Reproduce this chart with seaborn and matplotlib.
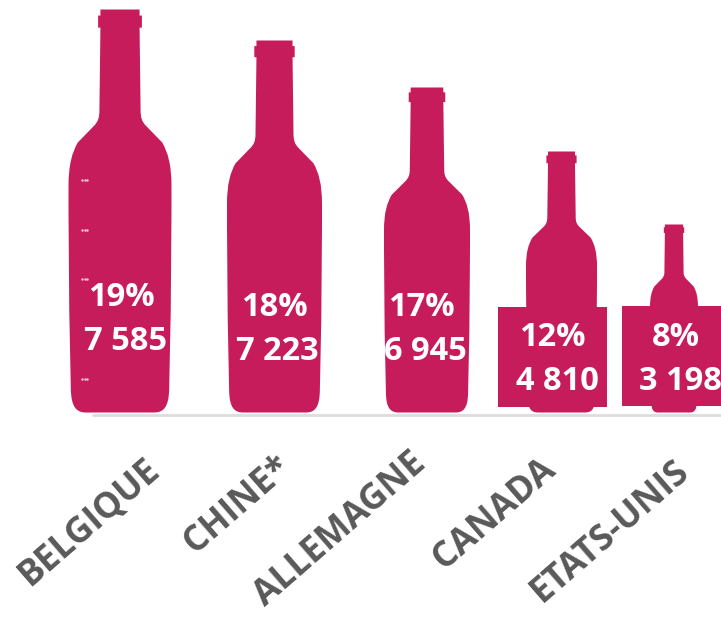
import pandas as pd
import matplotlib
matplotlib.use('Agg')
import matplotlib.pyplot as plt
import seaborn as sns
from matplotlib.path import Path
from matplotlib.patches import PathPatch, Rectangle

# =============================================================================
# Data
# =============================================================================

pays = ['BELGIQUE', 'CHINE*', 'ALLEMAGNE', 'CANADA', 'ETATS-UNIS']
parts = ['19%', '18%', '17%', '12%', '8%']
volumes = ['7 585', '7 223', '6 945', '4 810', '3 198']
# height of each bottle as drawn in the picture
hauteurs = [403, 372, 325, 261, 188]
largeurs = [103, 95, 86, 71, 48]
centres = [120, 274.5, 427, 561.5, 674]

ROSE = '#C71C5B'
GRIS = '#595959'
BASE = 412.5  # picture row of the bottom of the bottles

# =============================================================================
# Bottle shape (right half, unit width/height)
# =============================================================================

c4 = Path.CURVE4
moitie = [
    ((0.0, 0.0), Path.MOVETO),
    ((0.66, 0.0), Path.LINETO),
    ((0.84, 0.0), c4), ((0.95, 0.012), c4), ((0.955, 0.06), c4),
    ((0.985, 0.25), Path.LINETO),
    ((1.0, 0.50), Path.LINETO),
    ((1.0, 0.56), Path.LINETO),
    ((1.0, 0.615), c4), ((0.93, 0.645), c4), ((0.82, 0.67), c4),
    ((0.50, 0.712), Path.LINETO),
    ((0.43, 0.722), c4), ((0.40, 0.73), c4), ((0.40, 0.75), c4),
    ((0.38, 0.955), Path.LINETO),
    ((0.425, 0.955), Path.LINETO),
    ((0.425, 0.985), Path.LINETO),
    ((0.38, 0.985), Path.LINETO),
    ((0.38, 1.0), Path.LINETO),
]


def bouteille(cx, w, h):
    # mirror the right half to close the outline
    pts = [p for p, c in moitie]
    codes = [c for p, c in moitie]
    droite = [(cx + u * w / 2, v * h) for u, v in pts]
    gauche = [(cx - u * w / 2, v * h) for u, v in pts[::-1]]
    return Path(droite + gauche, codes + [Path.LINETO] + codes[:0:-1])


# =============================================================================
# Figure
# =============================================================================

sns.set_theme(style='white')
plt.rcParams['font.family'] = ['Open Sans', 'DejaVu Sans']

df = pd.DataFrame({'pays': pays, 'centre': centres, 'hauteur': hauteurs})

fig = plt.figure(figsize=(7.21, 6.17), dpi=100)
ax = fig.add_axes([0, 0, 1, 1])
sns.barplot(data=df, x='centre', y='hauteur', native_scale=True, color=ROSE,
            saturation=1, ax=ax)

# baseline under the bottles
ax.plot([93, 721], [-2.5, -2.5], color='#DDDDDD', lw=2.0, zorder=1)

# every bar becomes a bottle of the same height
for bar, w in zip(list(ax.patches), largeurs):
    cx = bar.get_x() + bar.get_width() / 2
    ax.add_patch(PathPatch(bouteille(cx, w, bar.get_height()), fc=ROSE, ec='none', zorder=2))
    bar.set_visible(False)

# boxes behind the figures of the two small bottles
ax.add_patch(Rectangle((498, BASE - 407), 109, 100, fc=ROSE, ec='none', zorder=3))
ax.add_patch(Rectangle((622, BASE - 406), 110, 100, fc=ROSE, ec='none', zorder=3, clip_on=True))

# small marks left on the first bottle
for row in [180, 230, 279, 379]:
    ax.plot([82, 84.5, 87], [BASE - row] * 3, ls='none', marker='s', ms=0.7,
            color='#F3C9D8', zorder=3)

pos_parts = [(121, 297), (274, 307), (421, 308), (552, 338), (676, 337)]
pos_vols = [(125, 342), (277, 351), (425, 352), (557, 381), (680, 381)]
for txt, (x, y) in zip(parts, pos_parts):
    ax.text(x, BASE - y, txt, color='white', fontsize=23.5, fontweight='bold',
            ha='center', va='center', zorder=4)
for txt, (x, y) in zip(volumes, pos_vols):
    ax.text(x, BASE - y, txt, color='white', fontsize=23.5, fontweight='bold',
            ha='center', va='center', zorder=4)

pos_pays = [(90, 522), (238, 505), (340, 530), (495, 514), (610, 531)]
for txt, (x, y) in zip(pays, pos_pays):
    ax.text(x, BASE - y, txt, color=GRIS, fontsize=25.5, fontweight='bold', rotation=41,
            rotation_mode='anchor', ha='center', va='center', zorder=4)

ax.set_xlim(0, 721)
ax.set_ylim(BASE - 617, BASE)
ax.axis('off')

fig.savefig('out.png', dpi=100, facecolor='white')
